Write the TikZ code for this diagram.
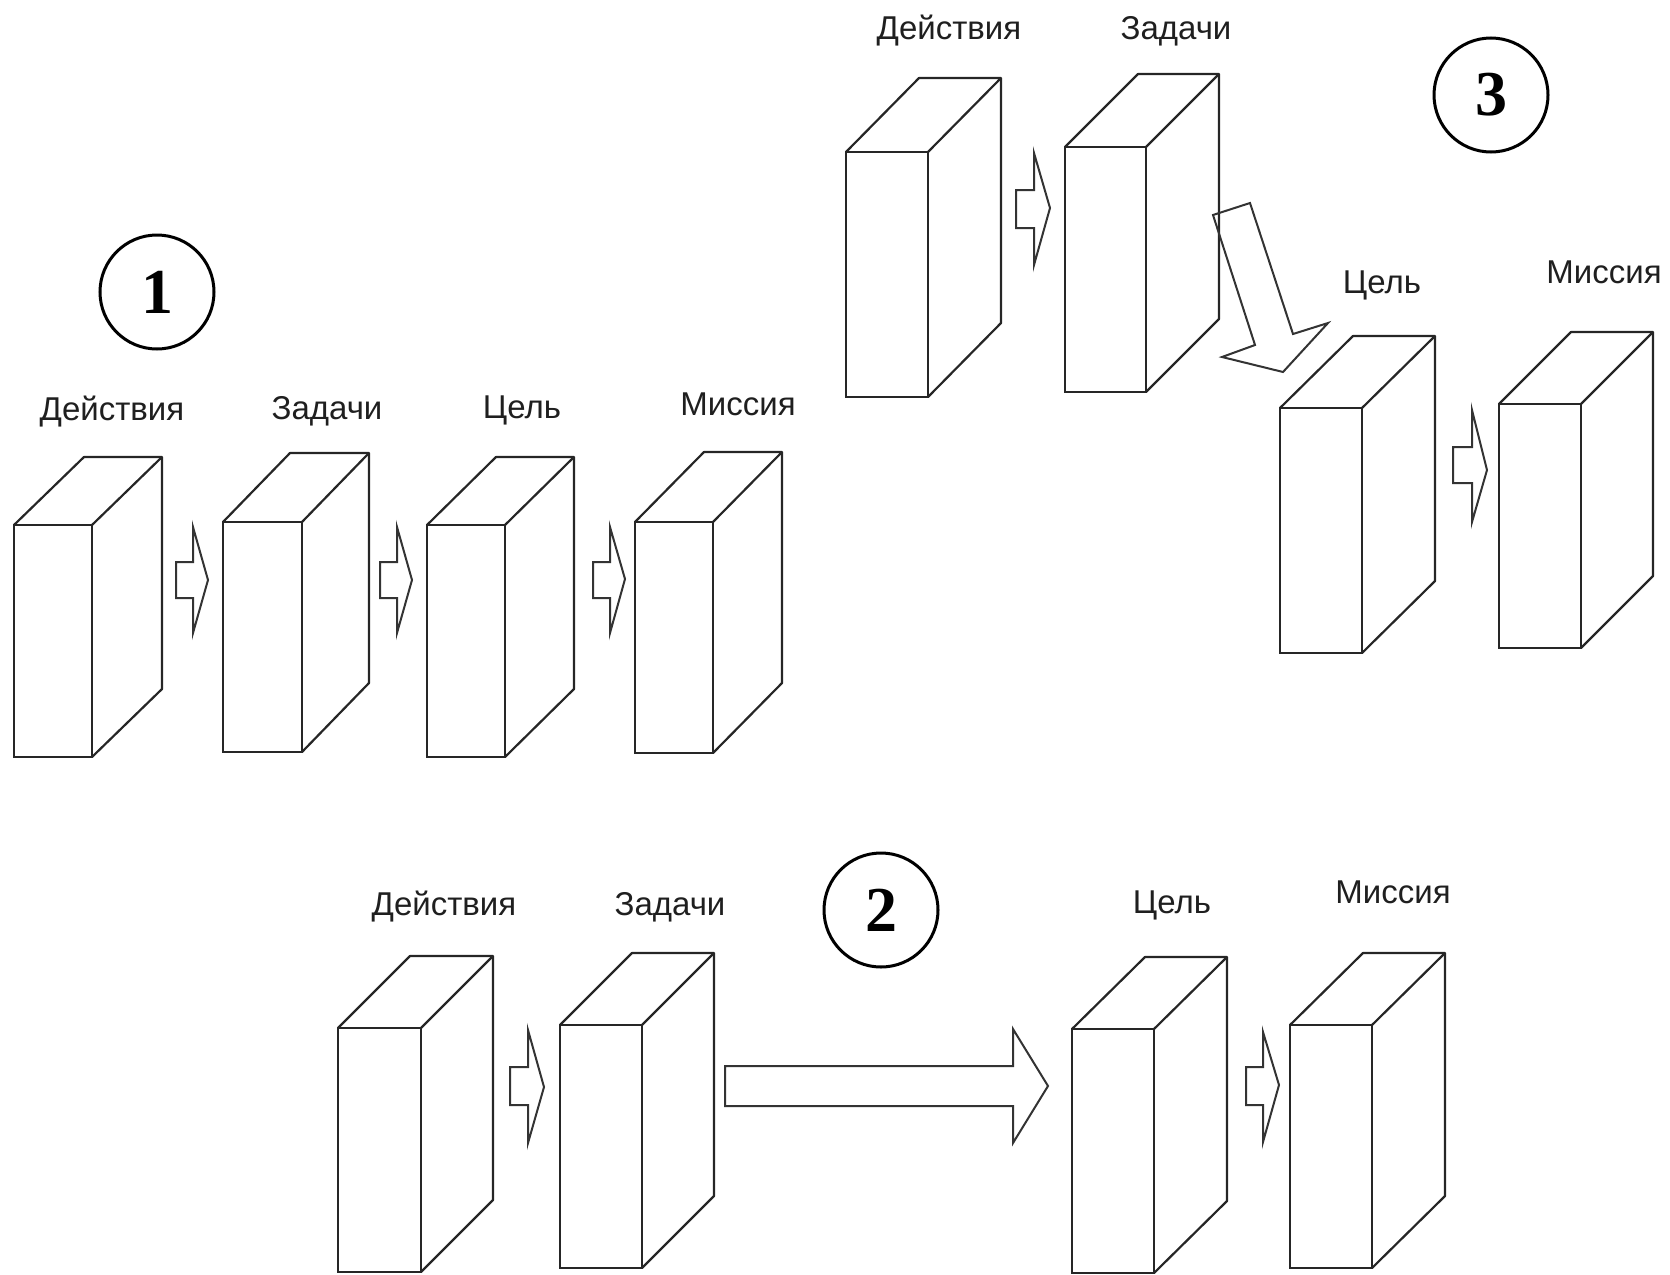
\documentclass[tikz,border=0pt]{standalone}
\usepackage{fontspec}
\setmainfont{Liberation Sans}
\newfontfamily\numfont{Liberation Serif}
\tikzset{
  face/.style={draw=black!85, line width=2.2pt, fill=white, inner sep=0pt, outer sep=0pt},
  edge/.style={draw=black!85, line width=2.2pt, line join=round},
  blockarrow/.style={draw=black!80, line width=2pt, line join=miter},
  lbl/.style={font=\fontsize{33}{38}\selectfont, text=black!88, anchor=base, inner sep=0pt},
  numcirc/.style={circle, draw=black, line width=3pt, minimum size=114pt, inner sep=0pt,
    font=\numfont\bfseries\fontsize{64}{70}\selectfont}
}
% name, left x, top y, width, height, depth dx, depth dy
\newcommand{\cuboid}[7]{%
  \node[face, anchor=north west, minimum width=#4pt, minimum height=#5pt] (#1) at (#2,#3) {};
  \draw[edge] (#1.north west) -- ++(#6pt,#7pt) coordinate (#1-bl)
    -- ([shift={(#6pt,#7pt)}]#1.north east) coordinate (#1-br)
    -- ([shift={(#6pt,#7pt)}]#1.south east) coordinate (#1-bb)
    -- (#1.south east);
  \draw[edge] (#1.north east) -- (#1-br);
}
% shaft left, shaft top, shaft bottom, head base x, head top, head bottom, tip x, tip y
\newcommand{\barrow}[8]{%
  \draw[blockarrow] (#1,#2) -- (#4,#2) -- (#4,#5) -- (#7,#8) -- (#4,#6) -- (#4,#3) -- (#1,#3) -- cycle;}
\begin{document}
\begin{tikzpicture}[x=1pt,y=-1pt]
\useasboundingbox (0,0) rectangle (1670,1274);

% ---------- group 1 ----------
\node[numcirc] (n1) at (157,292) {1};
\cuboid{a1}{14}{525}{78}{232}{70}{68}
\cuboid{a2}{223}{522}{79}{230}{67}{69}
\cuboid{a3}{427}{525}{78}{232}{69}{68}
\cuboid{a4}{635}{522}{78}{231}{69}{70}
\node[lbl] (la1) at (112,420) {Действия};
\node[lbl] (la2) at (327,419) {Задачи};
\node[lbl] (la3) at (522,418) {Цель};
\node[lbl] (la4) at (738,415) {Миссия};
\barrow{176}{562}{598}{193}{527}{633}{208}{580}
\barrow{380}{562}{598}{397}{527}{633}{412}{580}
\barrow{593}{562}{598}{610}{527}{633}{625}{579}

% ---------- group 3 ----------
\node[numcirc] (n3) at (1491,95) {3};
\cuboid{c1}{846}{152}{82}{245}{73}{74}
\cuboid{c2}{1065}{147}{81}{245}{73}{73}
\cuboid{c3}{1280}{408}{82}{245}{73}{72}
\cuboid{c4}{1499}{404}{82}{244}{72}{72}
\node[lbl] (lc1) at (949,39) {Действия};
\node[lbl] (lc2) at (1176,39) {Задачи};
\node[lbl] (lc3) at (1382,293) {Цель};
\node[lbl] (lc4) at (1604,283) {Миссия};
\barrow{1016}{190}{228}{1034}{153}{265}{1050}{208}
\barrow{1453}{447}{483}{1472}{410}{522}{1487}{470}
\draw[blockarrow] (1213,215) -- (1250,203) -- (1293,334) -- (1328,323) -- (1283,372)
  -- (1222,357) -- (1255,345) -- cycle;

% ---------- group 2 ----------
\node[numcirc] (n2) at (881,910) {2};
\cuboid{b1}{338}{1028}{83}{244}{72}{72}
\cuboid{b2}{560}{1025}{82}{243}{72}{72}
\cuboid{b3}{1072}{1029}{82}{244}{73}{72}
\cuboid{b4}{1290}{1025}{82}{243}{73}{72}
\node[lbl] (lb1) at (444,915) {Действия};
\node[lbl] (lb2) at (670,915) {Задачи};
\node[lbl] (lb3) at (1172,913) {Цель};
\node[lbl] (lb4) at (1393,903) {Миссия};
\barrow{510}{1067}{1105}{528}{1030}{1143}{544}{1087}
\barrow{725}{1066}{1106}{1013}{1029}{1143}{1048}{1086}
\barrow{1246}{1067}{1105}{1263}{1032}{1142}{1279}{1085}
\end{tikzpicture}
\end{document}
